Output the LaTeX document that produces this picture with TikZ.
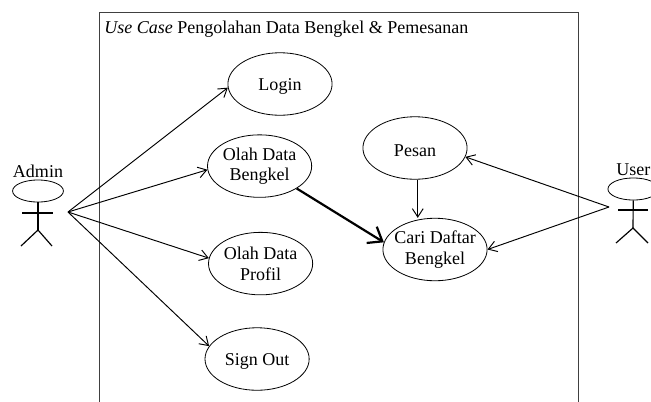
\documentclass[tikz,border=0pt]{standalone}
\usepackage{fontspec}
\setmainfont{Liberation Serif}
\usetikzlibrary{shapes.geometric, arrows.meta, positioning}
\tikzstyle{arrow} = [line width=0.65pt,-{Straight Barb[length=2mm,width=2.6mm]}]
\tikzstyle{arrow_S} = [line width=1.5pt,-{Straight Barb[length=3mm,width=4.6mm]}]
\tikzstyle{usecase} = [
ellipse, minimum width=2.5cm, minimum height=1.5cm, inner sep=-0.3cm,
text centered, align=center, draw=black, line width=0.55pt,
execute at begin node={\rule{0pt}{11.5pt}}
]
\tikzstyle{head} = [
ellipse, minimum width=1.22cm, minimum height=0.53cm, inner sep=0pt,
draw=black, line width=0.55pt
]
\tikzstyle{limb} = [line width=0.8pt]
\begin{document}
\begin{tikzpicture}[node distance=2cm, font=\fontsize{12.3}{14}\selectfont]
			\useasboundingbox (0,0) rectangle (15.624,9.624);
			\clip (0,0) rectangle (15.624,9.624);

			% Batas sistem
			\node (sistem) [rectangle, draw=black!75, line width=0.6pt, anchor=north west, minimum width=11.5cm, minimum height=10cm] at (2.376,9.336) {};
			\node (judul) [anchor=north west, inner sep=0pt, xshift=0.12cm, yshift=-0.2cm] at (sistem.north west) {\textit{Use Case} Pengolahan Data Bengkel \& Pemesanan};

			% Use case
			\node (login) [usecase] at (6.72,7.608) {Login};
			\node (olahbengkel) [usecase, below of=login, xshift=-0.49cm, yshift=0.03cm] {Olah Data\\Bengkel};
			\node (olahprofil) [usecase, below of=olahbengkel, xshift=0.024cm, yshift=-0.34cm] {Olah Data\\Profil};
			\node (signout) [usecase, below of=olahprofil, xshift=-0.084cm, yshift=-0.29cm] {Sign Out};
			\node (pesan) [usecase] at (9.96,6.072) {Pesan};
			\node (cari) [usecase, below of=pesan, xshift=0.48cm, yshift=-0.436cm] {Cari Daftar\\Bengkel};

			% Aktor admin
			\node (headadmin) [head] at (0.912,5.04) {};
			\node (admin) [above=0.05cm of headadmin, inner sep=0pt] {Admin};
			\coordinate (hipadmin) at (0.912,4.104);
			\coordinate (armLadmin) at (0.528,4.512);
			\coordinate (armRadmin) at (1.272,4.512);
			\coordinate (legLadmin) at (0.504,3.72);
			\coordinate (legRadmin) at (1.248,3.72);
			\coordinate (tanganadmin) at (1.632,4.536);
			\draw [limb] (headadmin) -- (hipadmin);
			\draw [limb] (armLadmin) -- (armRadmin);
			\draw [limb] (legLadmin) -- (hipadmin) -- (legRadmin);

			% Aktor user
			\node (headuser) [head] at (15.2,5.088) {};
			\node (user) [above=0.05cm of headuser, inner sep=0pt] {User};
			\coordinate (hipuser) at (15.192,4.152);
			\coordinate (armLuser) at (14.832,4.584);
			\coordinate (armRuser) at (15.552,4.584);
			\coordinate (legLuser) at (14.784,3.792);
			\coordinate (legRuser) at (15.552,3.792);
			\coordinate (tanganuser) at (14.616,4.656);
			\draw [limb] (headuser) -- (hipuser);
			\draw [limb] (armLuser) -- (armRuser);
			\draw [limb] (legLuser) -- (hipuser) -- (legRuser);

			% Connections
			\draw [arrow] (tanganadmin) -- (login.184);
			\draw [arrow] (tanganadmin) -- (olahbengkel.184);
			\draw [arrow] (tanganadmin) -- (olahprofil.174);
			\draw [arrow] (tanganadmin) -- (signout.165);
			\draw [arrow] (pesan.275) -- (pesan.275 |- cari.north);
			\draw [arrow_S] (olahbengkel.south east) -- (cari.172);
			\draw [arrow] (tanganuser) -- (pesan.350);
			\draw [arrow] (tanganuser) -- (cari.east);
\end{tikzpicture}
\end{document}
